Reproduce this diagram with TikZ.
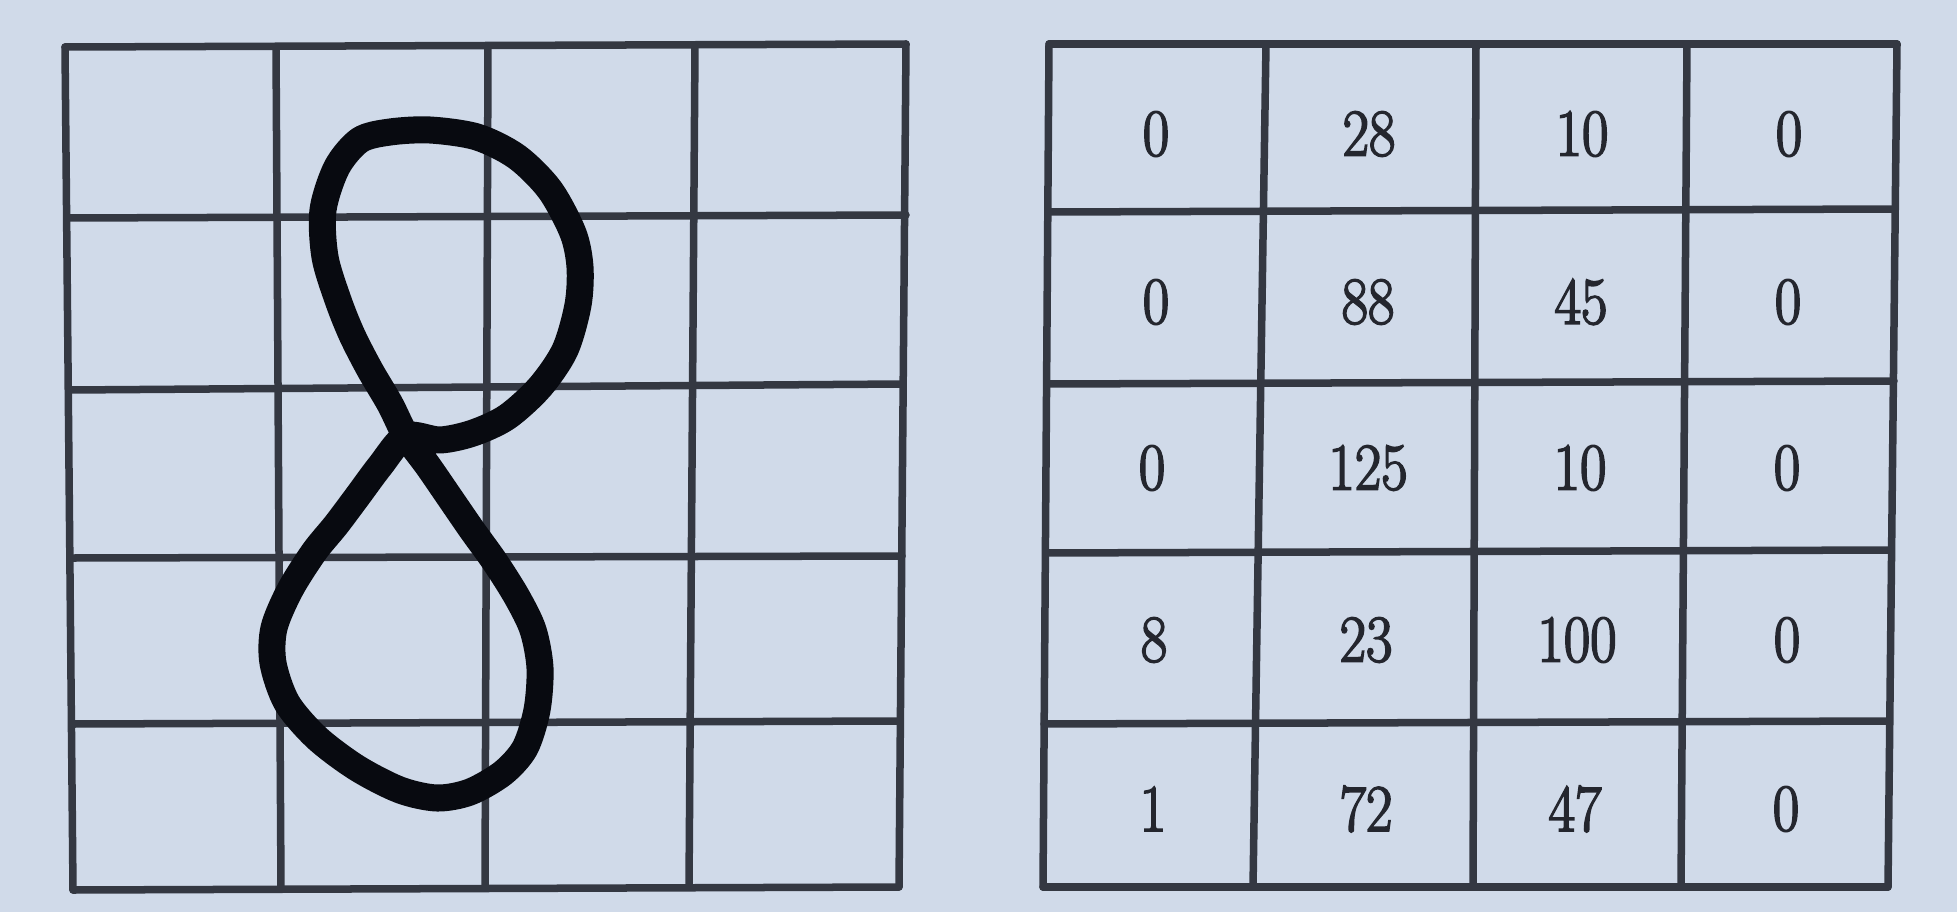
\documentclass[tikz,border=0pt]{standalone}
\usepackage{fontspec}
\newfontfamily\numfont{Latin Modern Roman}[FakeStretch=0.86, FakeBold=2.6]
\usetikzlibrary{calc}
\definecolor{paper}{RGB}{208,218,233}
\definecolor{gridink}{RGB}{52,56,66}
\definecolor{textink}{RGB}{36,38,46}
\definecolor{penink}{RGB}{8,10,16}
\tikzset{
  gridline/.style={draw=gridink, line width=0.075cm, line cap=round},
  numcell/.style={text=textink, font=\numfont\fontsize{19}{22}\selectfont, inner sep=0pt},
  penstroke/.style={draw=penink, line width=0.27cm, line join=round, line cap=round}
}
\begin{document}
\begin{tikzpicture}[x=0.01cm,y=-0.01cm]
\fill[paper] (0,0) rectangle (1957,912);
\useasboundingbox (0,0) rectangle (1957,912);

% ---------- left grid ----------
\draw[gridline] (65,47) -- (73,890);
\draw[gridline] (276,47) -- (281,888);
\draw[gridline] (488,46) -- (485,888);
\draw[gridline] (695,46) -- (689,887);
\draw[gridline] (906,44) -- (899,887);
\draw[gridline] (65,47) -- (906,44);
\draw[gridline] (67,218) -- (906,215);
\draw[gridline] (70,390) -- (902,384);
\draw[gridline] (73,558) -- (902,556);
\draw[gridline] (73,724) -- (899,721);
\draw[gridline] (73,890) -- (899,887);

% hand drawn eight
\draw[penstroke] plot[smooth cycle, tension=0.5] coordinates {
 (406,436) (440,440) (473,433) (507,417) (540,387) (565,350) (578,305)
 (580,267) (573,233) (550,190) (517,157) (477,137) (430,130) (390,132)
 (360,140) (337,167) (323,210) (325,257) (338,300) (352,335) (370,370)
 (390,404) (406,436) (428,466) (450,498) (472,530) (495,562) (517,597)
 (533,630) (540,668) (537,710) (525,748) (503,773) (470,792) (437,798)
 (400,790) (357,768) (317,738) (287,703) (273,663) (274,628) (290,590)
 (314,552) (336,525) (357,497) (380,466)};

% ---------- right grid ----------
\draw[gridline] (1049,44) -- (1043,887);
\draw[gridline] (1266,44) -- (1253,887);
\draw[gridline] (1476,44) -- (1473,887);
\draw[gridline] (1687,44) -- (1681,887);
\draw[gridline] (1897,44) -- (1888,887);
\draw[gridline] (1049,44) -- (1897,44);
\draw[gridline] (1049,212) -- (1893,209);
\draw[gridline] (1048,384) -- (1894,381);
\draw[gridline] (1046,553) -- (1891,550);
\draw[gridline] (1044,724) -- (1888,721);
\draw[gridline] (1043,887) -- (1888,887);

% numbers
\node[numcell] (n11) at (1156,134) {0};
\node[numcell] (n12) at (1369,134) {28};
\node[numcell] (n13) at (1582,134) {10};
\node[numcell] (n14) at (1789,134) {0};
\node[numcell] (n21) at (1156,302) {0};
\node[numcell] (n22) at (1368,302) {88};
\node[numcell] (n23) at (1581,302) {45};
\node[numcell] (n24) at (1788,302) {0};
\node[numcell] (n31) at (1152,468) {0};
\node[numcell] (n32) at (1368,468) {125};
\node[numcell] (n33) at (1580,468) {10};
\node[numcell] (n34) at (1787,468) {0};
\node[numcell] (n41) at (1154,640) {8};
\node[numcell] (n42) at (1366,640) {23};
\node[numcell] (n43) at (1577,640) {100};
\node[numcell] (n44) at (1787,640) {0};
\node[numcell] (n51) at (1153,809) {1};
\node[numcell] (n52) at (1366,809) {72};
\node[numcell] (n53) at (1575,809) {47};
\node[numcell] (n54) at (1786,809) {0};
\end{tikzpicture}
\end{document}
